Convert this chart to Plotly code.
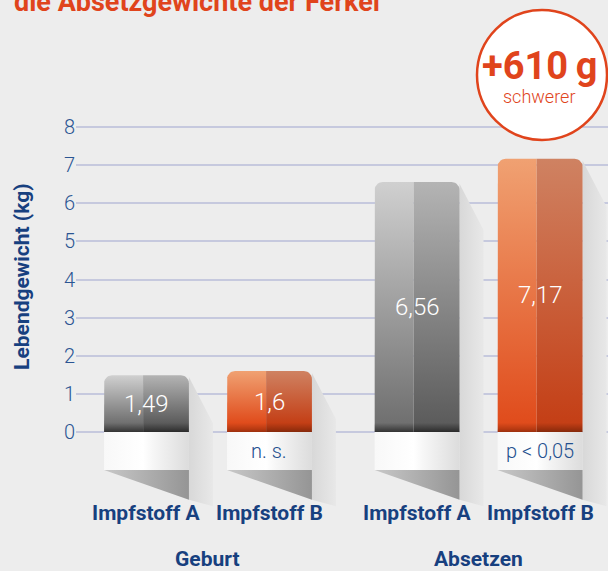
import numpy as np
import plotly.graph_objects as go

# Lebendgewicht der Ferkel (kg) bei Geburt und beim Absetzen
groups = ["Geburt", "Absetzen"]
vaccines = ["Impfstoff A", "Impfstoff B"]
weights = [1.49, 1.6, 6.56, 7.17]          # Geburt A, Geburt B, Absetzen A, Absetzen B
significance = ["n. s.", "p < 0,05"]       # Impfstoff B vs. A, je Zeitpunkt
y_ticks = [0, 1, 2, 3, 4, 5, 6, 7, 8]
title_text = "die Absetzgewichte der Ferkel"

diff_g = round((weights[3] - weights[2]) * 1000)

W, H = 608, 571
ML = 76
BOLD = "Roboto, Liberation Sans, sans-serif"
LIGHT = "Roboto, Liberation Sans, sans-serif"
BLUE = "#17407f"
TICKBLUE = "#2b5593"
RED = "#e0441c"

GROUP_GAP = 2.2
BAR_W = 0.69
SPLIT = 0.46
RX, RY = 0.065, 0.21        # corner radius in x / y units
SH_DX, SH_DY = 0.195, 1.26  # shadow offset
BLOCK = 1.0


def paper_y(p):
    return 1 - p / H


def paper_x(p):
    return (p - ML) / (W - ML)


def arc(cx, cy, a0, a1, n=8):
    t = np.radians(np.linspace(a0, a1, n))
    return list(cx + RX * np.cos(t)), list(cy + RY * np.sin(t))


def poly(xs, ys, grad):
    return go.Scatter(x=xs, y=ys, fill="toself", fillgradient=grad, mode="lines",
                      line=dict(width=0), hoverinfo="skip", showlegend=False)


def note(x, y, text, font, ref="paper", **kw):
    return dict(x=x, y=y, xref=ref, yref=ref, showarrow=False, text=text, font=font,
                xanchor=kw.pop("xanchor", "center"), yanchor=kw.pop("yanchor", "middle"), **kw)


positions = [g * GROUP_GAP + k for g in range(len(groups)) for k in range(len(vaccines))]

fig = go.Figure()

for i, (x, v) in enumerate(zip(positions, weights)):
    L, R = x - BAR_W / 2, x + BAR_W / 2
    M = L + SPLIT * BAR_W
    orange = i % 2 == 1

    # shadows
    fig.add_trace(poly([R, R + SH_DX, R + SH_DX, R], [v - 0.05, v - SH_DY, -1.95, -1.78],
                       dict(type="horizontal", colorscale=[[0, "#d8d8d8"], [1, "#e8e8e8"]])))
    fig.add_trace(poly([L, R, R], [-BLOCK, -BLOCK, -1.78],
                       dict(type="horizontal", colorscale=[[0, "#c8c8c8"], [1, "#959595"]])))

    s = 0.08 / v
    if orange:
        left_cs = [[0, "#9c300e"], [s, "#b83a12"], [s * 3, "#e04c1c"], [1, "#f0a172"]]
        right_cs = [[0, "#852a0c"], [s, "#9c300e"], [s * 3, "#c43f16"], [1, "#cf8262"]]
    else:
        left_cs = [[0, "#333333"], [s, "#484848"], [s * 3, "#707070"], [1, "#d0d0d0"]]
        right_cs = [[0, "#2a2a2a"], [s, "#3c3c3c"], [s * 3, "#5c5c5c"], [1, "#b4b4b4"]]

    ax, ay = arc(L + RX, v - RY, 180, 90)
    fig.add_trace(poly([L, L] + ax + [M, M], [0, v - RY] + ay + [v, 0],
                       dict(type="vertical", colorscale=left_cs, start=0, stop=v)))
    ax, ay = arc(R - RX, v - RY, 90, 0)
    fig.add_trace(poly([M, M] + ax + [R, R], [0, v] + ay + [v - RY, 0],
                       dict(type="vertical", colorscale=right_cs, start=0, stop=v)))

    # white base block
    fig.add_trace(poly([L, R, R, L], [0, 0, -BLOCK, -BLOCK],
                       dict(type="horizontal",
                            colorscale=[[0, "#f8f8f8"], [0.46, "#ffffff"], [0.58, "#f6f6f6"], [1, "#dcdcdc"]])))

annotations = []
for i, (x, v) in enumerate(zip(positions, weights)):
    annotations.append(note(x, v / 2, f"{v:g}".replace(".", ","),
                            dict(family=LIGHT, weight=300, size=24, color="white"), ref="data"))
    annotations.append(note(x, -2.125, vaccines[i % 2],
                            dict(family=BOLD, weight="bold", size=21, color=BLUE), ref="data"))

for g, label in enumerate(groups):
    gx = float(np.mean(positions[2 * g:2 * g + 2]))
    annotations.append(note(gx, -3.34, label,
                            dict(family=BOLD, weight="bold", size=21, color=BLUE), ref="data"))
    annotations.append(note(positions[2 * g + 1], -BLOCK / 2, significance[g],
                            dict(family=LIGHT, weight=300, size=20, color="#24508f"), ref="data"))

annotations += [
    note(paper_x(22), 0.515, "Lebendgewicht (kg)",
         dict(family=BOLD, weight="bold", size=21, color=BLUE), textangle=-90),
    note(paper_x(12), paper_y(2), title_text,
         dict(family=BOLD, weight="bold", size=27, color=RED), xanchor="left"),
    note(paper_x(540), paper_y(66), f"+{diff_g}\u2009g",
         dict(family=BOLD, weight="bold", size=38, color=RED)),
    note(paper_x(539), paper_y(97), "schwerer",
         dict(family=LIGHT, weight=300, size=18, color=RED)),
]
for a in annotations:
    if a["xref"] == "data":
        a["xref"], a["yref"] = "x", "y"

fig.update_layout(
    width=W, height=H, autosize=False,
    margin=dict(l=ML, r=0, t=0, b=0),
    paper_bgcolor="#ededed", plot_bgcolor="#ededed",
    showlegend=False,
    xaxis=dict(range=[-0.573, 3.752], visible=False, fixedrange=True),
    yaxis=dict(range=[-3.646, 11.331], tickvals=y_ticks, ticktext=[str(t) for t in y_ticks],
               gridcolor="#c6c9de", gridwidth=1.5, zeroline=False, showline=False, ticks="",
               tickfont=dict(family=LIGHT, weight=300, size=20, color=TICKBLUE), fixedrange=True),
    shapes=[dict(type="circle", xref="paper", yref="paper", xsizemode="pixel", ysizemode="pixel",
                 xanchor=paper_x(542), yanchor=paper_y(75), x0=-65, x1=65, y0=-65, y1=65,
                 fillcolor="white", line=dict(color=RED, width=2.5), layer="above")],
    annotations=annotations,
)

fig.write_html("out.html", config={"displayModeBar": False},
               post_script="document.body.style.margin='0';document.body.style.background='#ededed';")
